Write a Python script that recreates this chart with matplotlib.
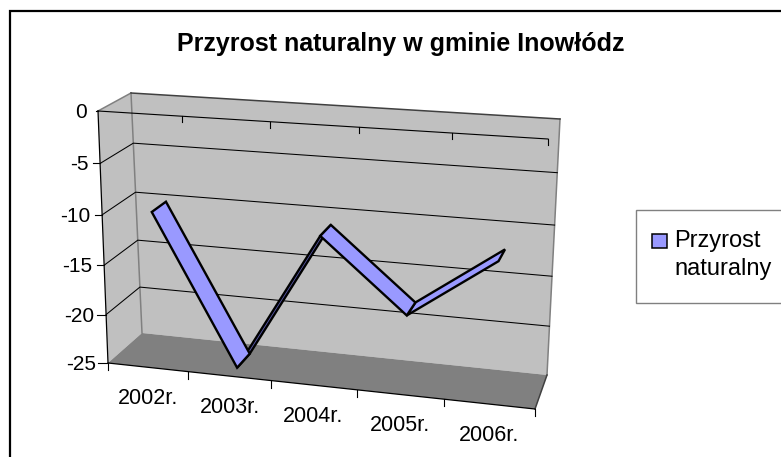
import numpy as np
import matplotlib
matplotlib.use('Agg')
import matplotlib.pyplot as plt
from matplotlib.patches import Polygon, Rectangle

years = ['2002r.', '2003r.', '2004r.', '2005r.', '2006r.']
values = [-10, -25, -11, -18, -12]
value_ticks = [0, -5, -10, -15, -20, -25]
series_name = 'Przyrost\nnaturalny'
title = 'Przyrost naturalny w gminie Inowłódz'

W, H = 781, 457
FONT = 'Liberation Sans'

# corners of the 3d box in pixels: top left, top right, bottom right, bottom left
front_box = [(98, 111), (548, 139), (535, 409), (108, 363)]
back_box = [(131, 93), (560, 119), (547, 375), (142, 333)]
# where the ribbon sits in the depth of the box
ribbon_front, ribbon_back = 0.27, 0.72
# the value ticks get longer towards the floor
tick_len = [2, 7, 7, 7, 9, 10]


def homography(corners):
    src = [(0, 0), (1, 0), (1, 1), (0, 1)]
    a, b = [], []
    for (u, v), (x, y) in zip(src, corners):
        a.append([u, v, 1, 0, 0, 0, -u * x, -v * x])
        a.append([0, 0, 0, u, v, 1, -u * y, -v * y])
        b += [x, y]
    return np.append(np.linalg.solve(np.array(a, float), np.array(b, float)), 1).reshape(3, 3)


H_front = homography(front_box)
H_back = homography(back_box)


def project(u, val, depth=0.0):
    # u is 0..1 along the categories, val a chart value, depth 0 front .. 1 back
    p = np.array([u, val / -25.0, 1.0])
    f = H_front @ p
    b = H_back @ p
    f = f[:2] / f[2]
    b = b[:2] / b[2]
    return tuple(f + (b - f) * depth)


fig = plt.figure(figsize=(W / 100, H / 100), dpi=100)
ax = fig.add_axes([0, 0, 1, 1])
ax.set_xlim(0, W)
ax.set_ylim(H, 0)
ax.axis('off')

# chart frame, runs off the picture on the right and bottom
ax.add_patch(Rectangle((10, 11), W + 20, H + 20, fc='white', ec='black', lw=1.6, zorder=0))

wall = '#c0c0c0'
edge = '#808080'
back_wall = [project(0, 0, 1), project(1, 0, 1), project(1, -25, 1), project(0, -25, 1)]
side_wall = [project(0, 0, 0), project(0, 0, 1), project(0, -25, 1), project(0, -25, 0)]
floor = [project(0, -25, 0), project(0, -25, 1), project(1, -25, 1), project(1, -25, 0)]
ax.add_patch(Polygon(back_wall, fc=wall, ec='none', zorder=1))
ax.add_patch(Polygon(side_wall, fc=wall, ec='none', zorder=1))
ax.add_patch(Polygon(floor, fc=edge, ec='none', zorder=1))

# wall edges
for a, b, c in [(project(0, 0, 0), project(0, 0, 1), edge),
                (project(0, 0, 1), project(0, -25, 1), edge),
                (project(1, 0, 1), project(1, -25, 1), edge),
                (project(0, 0, 1), project(1, 0, 1), '#404040'),
                (project(1, -25, 1), project(1, -25, 0), '#404040')]:
    ax.plot([a[0], b[0]], [a[1], b[1]], color=c, lw=1.1, zorder=2)

# gridlines on back and side wall
for val in value_ticks[1:-1]:
    a, b, c = project(0, val, 0), project(0, val, 1), project(1, val, 1)
    ax.plot([a[0], b[0], c[0]], [a[1], b[1], c[1]], color='black', lw=0.75, zorder=2)

# ribbon
n = len(values)
for i in [1, 3, 0, 2]:
    u0, u1 = (i + 0.5) / n, (i + 1.5) / n
    poly = [project(u0, values[i], ribbon_front), project(u1, values[i + 1], ribbon_front),
            project(u1, values[i + 1], ribbon_back), project(u0, values[i], ribbon_back)]
    color = '#5c5cb0' if i == 1 else '#9999ff'
    ax.add_patch(Polygon(poly, fc=color, ec='black', lw=1.7, joinstyle='miter', zorder=3))

# axes lines and ticks
a, b = project(0, 0), project(1, 0)
ax.plot([a[0], b[0]], [a[1], b[1]], color='black', lw=0.8, zorder=4)
a, b = project(0, -25), project(1, -25)
ax.plot([a[0], b[0]], [a[1], b[1]], color='black', lw=0.9, zorder=4)
a, b = project(0, 0), project(0, -25)
ax.plot([a[0], b[0]], [a[1], b[1]], color='black', lw=0.9, zorder=4)

for i in range(n + 1):
    x, y = project(i / n, -25)
    ax.plot([x, x], [y, y + 7], color='black', lw=0.8, zorder=4)
    if i > 0:
        x, y = project(i / n, 0)
        ax.plot([x, x], [y, y + 6], color='black', lw=0.8, zorder=4)

for val, tl in zip(value_ticks, tick_len):
    x, y = project(0, val)
    ax.plot([x - tl, x], [y, y], color='black', lw=0.8, zorder=4)
    ax.text(x - 11.5, y + 1.5, str(val), ha='right', va='center', fontsize=15, family=FONT, zorder=5)

for i, year in enumerate(years):
    x, y = project((i + 0.5) / n, -25)
    ax.text(x, y + 31, year, ha='center', va='center', fontsize=15.5, family=FONT, zorder=5)

ax.text(401, 44, title, ha='center', va='center', fontsize=18, fontweight='bold', family=FONT, zorder=5)

# legend
ax.add_patch(Rectangle((636, 210), W, 93, fc='white', ec=edge, lw=1.0, zorder=1))
ax.add_patch(Rectangle((651.5, 233.5), 15, 14, fc='#9999ff', ec='black', lw=1.1, zorder=5))
ax.text(674, 255, series_name, ha='left', va='center', fontsize=17, family=FONT,
        linespacing=1.4, zorder=5)

fig.savefig('out.png', dpi=100)
